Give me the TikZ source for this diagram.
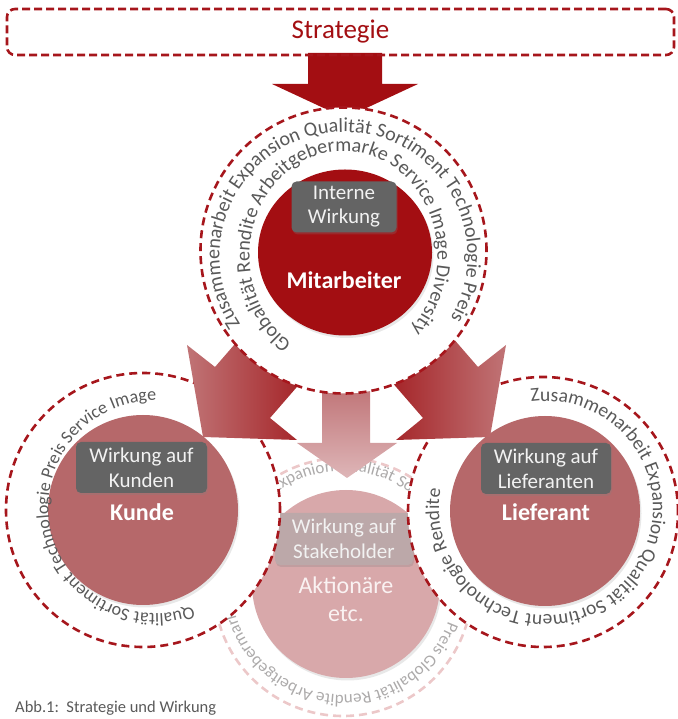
\documentclass[tikz,border=0pt]{standalone}
\usepackage{fontspec}
\setmainfont{Carlito}
\usetikzlibrary{decorations.text,calc,shadows,shapes.geometric}
\definecolor{darkred}{RGB}{163,14,18}
\definecolor{dashred}{RGB}{166,22,28}
\definecolor{midred}{RGB}{182,104,106}
\definecolor{stakedisk}{RGB}{216,168,170}
\definecolor{stakedash}{RGB}{236,200,201}
\definecolor{staketext}{RGB}{172,170,170}
\definecolor{stakebox}{RGB}{188,168,169}
\definecolor{ringgray}{RGB}{89,89,89}
\definecolor{boxgray}{RGB}{100,100,100}
\definecolor{boxtext}{RGB}{242,242,242}
\definecolor{arrowlight}{RGB}{192,116,118}
\definecolor{arrowdark}{RGB}{160,22,26}
\definecolor{midarrowtop}{RGB}{186,104,107}
\definecolor{midarrowbot}{RGB}{222,182,184}
\newcommand\myringtext[7]{%
  \path[decorate,decoration={text along path,text align=center,
    text={|\fontsize{#5}{#5}\selectfont\color{#6}|#7}}]
    ($(#1)+({(#2)*cos(#4+170)},{(#3)*sin(#4+170)})$)
    arc[start angle=#4+170,end angle=#4-170,x radius=#2,y radius=#3];}
\newcommand\myarctext[6]{%
  \path[decorate,decoration={text along path,text align=left,
    text={|\fontsize{#4}{#4}\selectfont\color{#5}|#6}}]
    ($(#1)+(#3:#2)$) arc[start angle=#3,end angle=#3-300,radius=#2];}
\begin{document}
\begin{tikzpicture}[x=1pt,y=1pt,
  dashring/.style={circle,draw=#1,line width=2.6pt,dash pattern=on 8pt off 5pt,inner sep=0pt},
  disk/.style={circle,fill=#1,inner sep=0pt,draw=none,
    drop shadow={opacity=0.18,shadow xshift=1.5pt,shadow yshift=-2.5pt}},
  infobox/.style={rounded corners=5pt,fill=#1,text=boxtext,align=center,inner sep=0pt,
    minimum height=51pt,font=\fontsize{21}{25}\selectfont,
    drop shadow={opacity=0.25,shadow xshift=1pt,shadow yshift=-2pt}},
  biglabel/.style={text=white,font=\bfseries\fontsize{24}{28}\selectfont}]
\useasboundingbox (0,0) rectangle (677,719);

% ---------- Stakeholder (faded) ----------
\node[dashring=stakedash,minimum size=258pt] (sring) at (343,132) {};
\myarctext{343,136}{112}{127}{17}{staketext}{Expanion Qualität So}
\myarctext{343,136}{112}{-20}{17}{staketext}{Preis Globalität Rendite Arbeitgebermarke}
\node[disk=stakedisk,minimum size=188pt] (sdisk) at (346,135) {};
\node[infobox=stakebox,minimum width=138pt,minimum height=52pt] (sbox) at (344,180) {Wirkung auf\\Stakeholder};
\node[text={rgb,255:red,250;green,242;blue,242},align=center,font=\fontsize{24}{28}\selectfont] (slabel) at (346,120) {Aktionäre\\etc.};

% ---------- middle arrow ----------
\shade[top color=midarrowtop,bottom color=midarrowbot]
  (322,349) -- (370,349) -- (370,276) -- (397,276) -- (347,241) -- (297,276) -- (322,276) -- cycle;

% ---------- top arrow ----------
\fill[darkred] (308,666) -- (382,666) -- (382,635) -- (418,635) -- (345,601) -- (272,635) -- (308,635) -- cycle;

% ---------- Kunde ----------
\node[dashring=dashred,fill=white,minimum size=274pt] (kring) at (143,209) {};
\node[disk=midred,minimum size=190pt] (kdisk) at (143,209) {};
\myringtext{155,212}{106.5}{106.5}{190}{18}{ringgray}{Qualität Sortiment Technologie Preis Service Image}
\node[infobox=boxgray,minimum width=131pt] (kbox) at (141.5,251.5) {Wirkung auf\\Kunden};
\node[biglabel] (klabel) at (142,207) {Kunde};

% ---------- Lieferant ----------
\node[dashring=dashred,fill=white,minimum size=270pt] (lring) at (543,207) {};
\node[disk=midred,minimum size=190pt] (ldisk) at (545,208) {};
\myringtext{546,211}{107}{107}{-46}{19.5}{ringgray}{Zusammenarbeit Expansion Qualität Sortiment Technologie Rendite}
\node[infobox=boxgray,minimum width=130pt] (lbox) at (546,250.5) {Wirkung auf\\Lieferanten};
\node[biglabel] (llabel) at (546,207) {Lieferant};

% ---------- diagonal arrows ----------
\shade[left color=arrowlight,right color=arrowdark]
  (203,282) -- (187,374) -- (215,352) -- (267,412) -- (322,361) -- (270,301) -- (297,279) -- cycle;
\shade[left color=arrowdark,right color=arrowlight]
  (490,282) -- (506,374) -- (478,352) -- (426,412) -- (371,361) -- (423,301) -- (396,279) -- cycle;

% ---------- Mitarbeiter ----------
\node[dashring=dashred,fill=white,minimum size=286pt] (mring) at (343.5,468.5) {};
\node[disk=darkred,ellipse,minimum width=174pt,minimum height=166pt] (mdisk) at (345,466.5) {};
\myringtext{343.5,463}{124}{124}{91.7}{20}{ringgray}{Zusammenarbeit Expansion Qualität Sortiment Technologie Preis}
\myringtext{343.5,463}{94}{105}{96.5}{20}{ringgray}{Globalität Rendite Arbeitgebermarke Service Image Diversity}
\node[infobox=boxgray,minimum width=105pt,font=\fontsize{21}{24}\selectfont] (mbox) at (344,512) {Interne\\Wirkung};
\node[biglabel] (mlabel) at (344,439) {Mitarbeiter};

% ---------- Strategie ----------
\node[draw=dashred,line width=2.6pt,dash pattern=on 8pt off 4pt,rounded corners=8pt,
  minimum width=667pt,minimum height=46pt,inner sep=0pt,text=darkred,
  font=\fontsize{27}{30}\selectfont] (strat) at (340.5,687) {Strategie};

% ---------- caption ----------
\node[anchor=base west,inner sep=0pt,text=ringgray,font=\fontsize{16.5}{19}\selectfont] (cap) at (15,6) {Abb.1:\ \ Strategie und Wirkung};
\end{tikzpicture}
\end{document}
